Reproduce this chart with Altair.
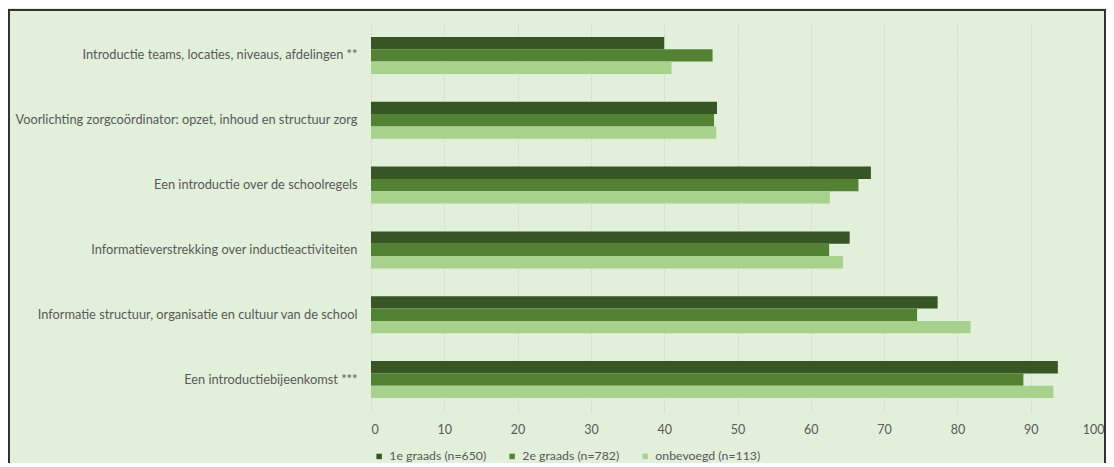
import altair as alt
import pandas as pd

categories = [
    "Introductie  teams, locaties, niveaus, afdelingen **",
    "Voorlichting zorgcoördinator: opzet, inhoud en structuur zorg",
    "Een introductie over de schoolregels",
    "Informatieverstrekking over inductieactiviteiten",
    "Informatie structuur, organisatie en cultuur van de school",
    "Een introductiebijeenkomst  ***",
]
series = ["1e graads (n=650)", "2e graads (n=782)", "onbevoegd (n=113)"]
vals_1e = [40.0, 47.2, 68.2, 65.3, 77.3, 93.7]
vals_2e = [46.6, 46.8, 66.5, 62.5, 74.5, 89.0]
vals_onb = [41.0, 47.1, 62.6, 64.4, 81.8, 93.1]
colors = ["#375623", "#548235", "#A9D18E"]
ticks = list(range(0, 101, 10))

rows = []
for i, c in enumerate(categories):
    for s, v in zip(series, [vals_1e[i], vals_2e[i], vals_onb[i]]):
        rows.append({"categorie": c, "groep": s, "waarde": v})
df = pd.DataFrame(rows)

FONT = "Lato"

bars = alt.Chart(df).mark_bar().encode(
    y=alt.Y("categorie:N", sort=categories, title=None,
            scale=alt.Scale(paddingInner=0.43, paddingOuter=0.215),
            axis=alt.Axis(labelFont=FONT, labelFontSize=12.8, labelColor="#595959",
                          labelPadding=14, ticks=False, domain=False, grid=False,
                          labelLimit=400)),
    yOffset=alt.YOffset("groep:N", sort=series),
    x=alt.X("waarde:Q", title=None,
            scale=alt.Scale(domain=[0, 100], nice=False),
            axis=alt.Axis(values=ticks, labelFont=FONT, labelFontSize=12.5,
                          labelColor="#595959", labelPadding=11, ticks=False,
                          domain=False, grid=True, gridColor="#C4C4C4",
                          gridDash=[1, 2], gridWidth=1)),
    color=alt.Color("groep:N", sort=series,
                    scale=alt.Scale(domain=series, range=colors),
                    legend=alt.Legend(title=None, orient="none", direction="horizontal",
                                      legendX=2, legendY=427, symbolType="square",
                                      symbolSize=30, symbolStrokeWidth=0,
                                      labelFont=FONT, labelFontSize=12.3,
                                      labelColor="#595959", columnPadding=19,
                                      labelOffset=4, symbolOpacity=1)),
)

border = alt.Chart(df).mark_rect(filled=False, stroke="#333333", strokeWidth=1.5).encode(
    x=alt.value(-362), x2=alt.value(734), y=alt.value(-13), y2=alt.value(460)
)

chart = alt.layer(bars, border).properties(
    width=733, height=389,
    autosize=alt.AutoSizeParams(type="none"),
    padding={"left": 363, "top": 15, "right": 2, "bottom": 51},
    background="#E2EFDA",
).configure_view(stroke=None)

chart.save("out.html", embed_options={"renderer": "svg", "actions": False})
